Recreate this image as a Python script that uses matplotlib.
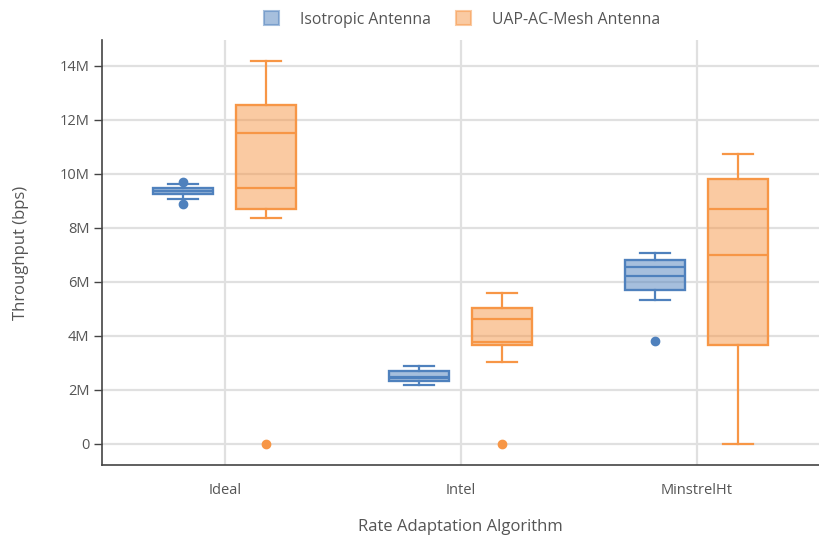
import numpy as np
import matplotlib.pyplot as plt
from matplotlib.patches import Patch

plt.rcParams['font.family'] = ['Open Sans', 'DejaVu Sans']

algos = ['Ideal', 'Intel', 'MinstrelHt']
series = ['Isotropic Antenna', 'UAP-AC-Mesh Antenna']
colors = ['#4f81bd', '#f79646']

# values in M bps: whislo, q1, med, mean, q3, whishi, outliers
iso_whislo = [9.06, 2.18, 5.33]
iso_q1 = [9.25, 2.32, 5.69]
iso_med = [9.37, 2.49, 6.22]
iso_mean = [9.37, 2.45, 6.54]
iso_q3 = [9.47, 2.71, 6.81]
iso_whishi = [9.63, 2.89, 7.09]
iso_fliers = [[9.69, 8.9], [], [3.8]]

uap_whislo = [8.38, 3.04, 0.0]
uap_q1 = [8.69, 3.67, 3.67]
uap_med = [9.49, 3.77, 7.0]
uap_mean = [11.5, 4.63, 8.71]
uap_q3 = [12.56, 5.05, 9.81]
uap_whishi = [14.19, 5.6, 10.74]
uap_fliers = [[0.0], [0.0], []]

data = [
    (iso_whislo, iso_q1, iso_med, iso_mean, iso_q3, iso_whishi, iso_fliers),
    (uap_whislo, uap_q1, uap_med, uap_mean, uap_q3, uap_whishi, uap_fliers),
]

fig = plt.figure(figsize=(8.2, 5.4), dpi=100)
ax = fig.add_axes([0.1244, 0.1389, 0.875, 0.787])

x = np.arange(len(algos))
offsets = [-0.175, 0.175]
lw = 1.6
for k, (wl, q1, med, mean, q3, wh, fl) in enumerate(data):
    c = colors[k]
    stats = []
    for i in range(len(algos)):
        stats.append(dict(whislo=wl[i] * 1e6, q1=q1[i] * 1e6, med=med[i] * 1e6,
                          mean=mean[i] * 1e6, q3=q3[i] * 1e6, whishi=wh[i] * 1e6,
                          fliers=np.array(fl[i]) * 1e6))
    ax.bxp(stats, positions=x + offsets[k], widths=0.254, patch_artist=True,
           showmeans=True, meanline=True, manage_ticks=False,
           boxprops=dict(facecolor=c, edgecolor=c, linewidth=lw, alpha=0.5),
           medianprops=dict(color=c, linewidth=lw),
           meanprops=dict(color=c, linewidth=lw, linestyle='-'),
           whiskerprops=dict(color=c, linewidth=lw),
           capprops=dict(color=c, linewidth=lw),
           capwidths=0.127,
           flierprops=dict(marker='o', markerfacecolor=c, markeredgecolor=c,
                           markersize=6))
    # redraw box outline opaque
    for i in range(len(algos)):
        ax.add_patch(plt.Rectangle((x[i] + offsets[k] - 0.127, q1[i] * 1e6), 0.254,
                                   (q3[i] - q1[i]) * 1e6, fill=False,
                                   edgecolor=c, linewidth=lw, zorder=3))

ax.set_xlim(-0.52, 2.52)
ax.set_ylim(-0.78e6, 14.96e6)
yt = np.arange(0, 15, 2)
ax.set_yticks(yt * 1e6)
ax.set_yticklabels(['0'] + ['%dM' % v for v in yt[1:]])
ax.set_xticks(x)
ax.set_xticklabels(algos)

ax.grid(True, color='#e0e0e0', linewidth=1.6)
ax.set_axisbelow(True)
for s in ['top', 'right']:
    ax.spines[s].set_visible(False)
for s in ['left', 'bottom']:
    ax.spines[s].set_color('#444444')
    ax.spines[s].set_linewidth(1.2)
ax.tick_params(axis='y', colors='#444444', labelcolor='#555555', labelsize=10.5,
               length=6, width=1, pad=3)
ax.tick_params(axis='x', length=0, labelcolor='#555555', labelsize=10.5, pad=13)

ax.set_xlabel('Rate Adaptation Algorithm', fontsize=12, color='#555555', labelpad=15)
ax.set_ylabel('Throughput (bps)', fontsize=12, color='#555555', labelpad=22)

handles = [Patch(facecolor=colors[k], edgecolor=colors[k], alpha=0.5, linewidth=1.5)
           for k in range(2)]
leg = fig.legend(handles, series, loc='upper center', bbox_to_anchor=(0.563, 1.005),
                 ncol=2, frameon=False, fontsize=11.3, handlelength=1.0,
                 handleheight=1.0, columnspacing=1.6, handletextpad=1.3)
for t in leg.get_texts():
    t.set_color('#555555')
for h, c in zip(leg.legend_handles, colors):
    h.set_edgecolor(c)

fig.savefig('out.png', dpi=100)
